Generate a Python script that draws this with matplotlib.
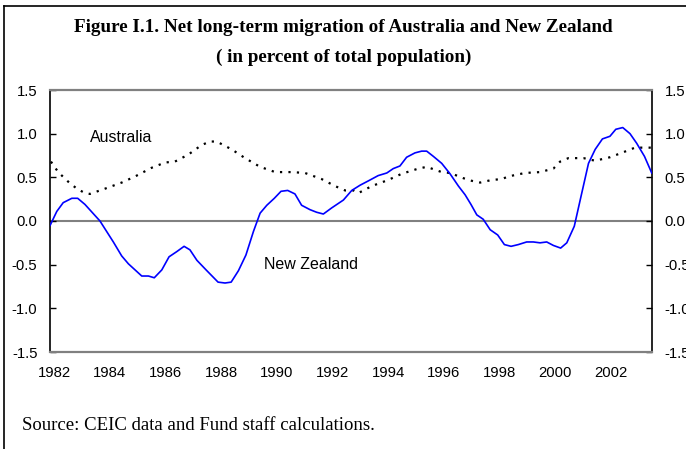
import matplotlib.pyplot as plt
from matplotlib.lines import Line2D

# New Zealand (year, percent of population)
nz_year = [1981.86, 1982.10, 1982.33, 1982.64, 1982.85, 1983.11, 1983.65, 1984.13,
           1984.43, 1984.67, 1985.15, 1985.39, 1985.60, 1985.87, 1986.13, 1986.41,
           1986.67, 1986.88, 1987.13, 1987.46, 1987.89, 1988.14, 1988.36, 1988.62,
           1988.89, 1989.16, 1989.40, 1989.64, 1989.91, 1990.15, 1990.39, 1990.65,
           1990.89, 1991.19, 1991.43, 1991.67, 1991.97, 1992.39, 1992.69, 1992.99,
           1993.29, 1993.64, 1993.95, 1994.18, 1994.42, 1994.66, 1994.96, 1995.20,
           1995.38, 1995.62, 1995.92, 1996.22, 1996.52, 1996.76, 1996.97, 1997.18,
           1997.41, 1997.66, 1997.93, 1998.17, 1998.41, 1998.67, 1998.97, 1999.21,
           1999.45, 1999.69, 1999.93, 2000.19, 2000.41, 2000.68, 2000.92, 2001.19,
           2001.43, 2001.69, 2001.96, 2002.17, 2002.42, 2002.68, 2002.92, 2003.20,
           2003.46]
nz_value = [-0.05, 0.11, 0.21, 0.26, 0.26, 0.19, 0.00, -0.24,
            -0.40, -0.49, -0.63, -0.63, -0.65, -0.56, -0.41, -0.35,
            -0.29, -0.33, -0.45, -0.56, -0.70, -0.71, -0.70, -0.57,
            -0.39, -0.12, 0.09, 0.18, 0.26, 0.34, 0.35, 0.31,
            0.18, 0.13, 0.10, 0.08, 0.15, 0.24, 0.35, 0.41,
            0.46, 0.52, 0.55, 0.60, 0.63, 0.73, 0.78, 0.80,
            0.80, 0.74, 0.66, 0.54, 0.40, 0.30, 0.19, 0.07,
            0.02, -0.10, -0.16, -0.27, -0.29, -0.27, -0.24, -0.24,
            -0.25, -0.24, -0.28, -0.31, -0.25, -0.06, 0.28, 0.66,
            0.82, 0.94, 0.97, 1.05, 1.07, 1.00, 0.89, 0.74,
            0.55]

# Australia
au_year = [1981.89, 1982.15, 1982.51, 1982.82, 1983.11, 1983.29, 1983.83, 1984.43,
           1984.91, 1985.51, 1985.99, 1986.34, 1986.82, 1987.30, 1987.60, 1987.84,
           1988.38, 1988.86, 1989.40, 1989.94, 1990.54, 1991.01, 1991.61, 1992.09,
           1992.45, 1992.75, 1992.93, 1993.41, 1994.00, 1994.48, 1995.08, 1995.38,
           1995.92, 1996.22, 1996.70, 1997.00, 1997.30, 1997.72, 1998.08, 1998.31,
           1998.91, 1999.45, 1999.93, 2000.17, 2000.47, 2001.01, 2001.43, 2001.96,
           2002.38, 2002.86, 2003.46]
au_value = [0.68, 0.56, 0.45, 0.37, 0.32, 0.31, 0.37, 0.44,
            0.51, 0.61, 0.67, 0.68, 0.76, 0.87, 0.91, 0.91,
            0.82, 0.72, 0.62, 0.56, 0.56, 0.55, 0.48, 0.40,
            0.35, 0.35, 0.32, 0.40, 0.47, 0.54, 0.60, 0.62,
            0.56, 0.55, 0.49, 0.46, 0.44, 0.47, 0.48, 0.51,
            0.55, 0.56, 0.60, 0.68, 0.72, 0.72, 0.69, 0.73,
            0.78, 0.84, 0.84]

year_ticks = list(range(1982, 2003, 2))
y_ticks = [-1.5, -1.0, -0.5, 0.0, 0.5, 1.0, 1.5]

W, H = 686, 449
fig = plt.figure(figsize=(W / 100, H / 100), dpi=100)
ax = fig.add_axes([50 / W, (H - 352) / H, 602 / W, 262 / H])

ax.axhline(0, color='#808080', lw=1.5, zorder=1)
ax.plot(au_year, au_value, color='black', lw=1.6, linestyle=(0, (1.0, 2.8)), zorder=2)
ax.plot(nz_year, nz_value, color='#0000ff', lw=1.2, zorder=3)

ax.set_xlim(1981.856, 2003.47)
ax.set_ylim(-1.5, 1.5)
ax.set_xticks(year_ticks)
ax.set_xticklabels([str(y) for y in year_ticks], family='Liberation Sans', fontsize=10.7)
ax.set_yticks(y_ticks)
ax.set_yticklabels(['%.1f' % v for v in y_ticks], family='Liberation Sans', fontsize=10.7)
ax.tick_params(axis='x', length=0, pad=10)
ax.tick_params(axis='y', direction='in', length=4, width=1, pad=9,
               right=True, labelright=True)

for side in ['top', 'bottom']:
    ax.spines[side].set_color('#808080')
    ax.spines[side].set_linewidth(1.6)
for side in ['left', 'right']:
    ax.spines[side].set_color('black')
    ax.spines[side].set_linewidth(1.2)

ax.text(1984.4, 0.96, 'Australia', family='Liberation Sans', fontsize=11.5,
        ha='center', va='center')
ax.text(1991.23, -0.50, 'New Zealand', family='Liberation Sans', fontsize=11.5,
        ha='center', va='center')

fig.text(343.5 / W, 1 - 27 / H, 'Figure I.1. Net long-term migration of Australia and New Zealand',
         family='Liberation Serif', fontweight='bold', fontsize=13.8, ha='center', va='center')
fig.text(344 / W, 1 - 57 / H, '( in percent of total population)',
         family='Liberation Serif', fontweight='bold', fontsize=13.8, ha='center', va='center')
fig.text(22 / W, 1 - 425 / H, 'Source: CEIC data and Fund staff calculations.',
         family='Liberation Serif', fontsize=13.5, ha='left', va='center')

# frame around the figure
fig.add_artist(Line2D([4 / W, 4 / W], [0, 1 - 6 / H], color='black', lw=1.2))
fig.add_artist(Line2D([4 / W, 1], [1 - 6 / H, 1 - 6 / H], color='black', lw=1.2))

fig.savefig('out.png', dpi=100)
